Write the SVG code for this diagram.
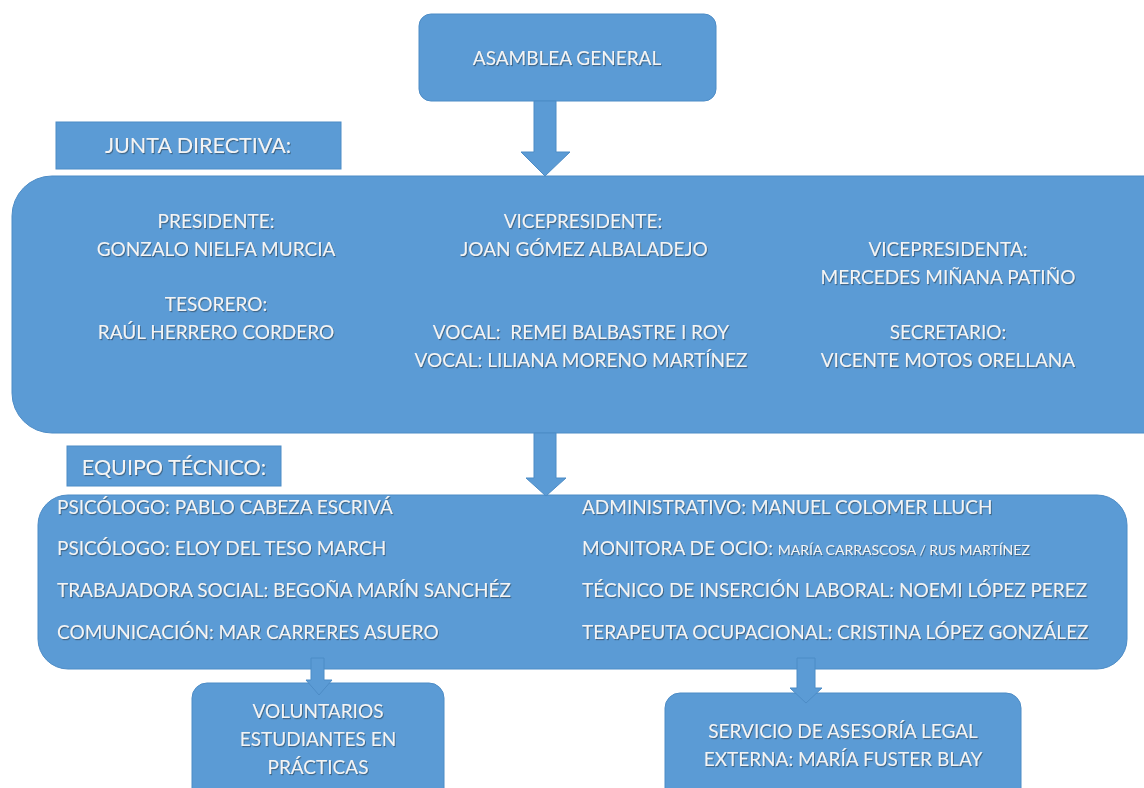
<svg xmlns="http://www.w3.org/2000/svg" width="1144" height="788" viewBox="0 0 1144 788">
<defs>
<filter id="ts" x="-5%" y="-30%" width="110%" height="160%">
<feDropShadow dx="1" dy="1.2" stdDeviation="0.6" flood-color="#2a3a4a" flood-opacity="0.55"/>
</filter>
<style>
.box{fill:#5b9bd5;stroke:#4d8cc6;stroke-width:1}
.arr{fill:#5b9bd5;stroke:#4d8cc6;stroke-width:1}
text{font-family:"Lato","Liberation Sans",sans-serif;fill:#f4f4f4;font-size:19px;filter:url(#ts)}
.c{text-anchor:middle}
.h{font-size:21.5px}
.s{font-size:14px}
</style>
</defs>
<rect width="1144" height="788" fill="#ffffff"/>
<g id="asamblea">
<rect class="box" x="419" y="14" width="297" height="87" rx="12"/>
<text class="c" x="567" y="65">ASAMBLEA GENERAL</text>
</g>
<g id="junta-label">
<rect class="box" x="56" y="122" width="285" height="47"/>
<text class="c h" x="198" y="153">JUNTA DIRECTIVA:</text>
</g>
<g id="junta">
<rect class="box" x="12" y="176" width="1180" height="257" rx="40"/>
<text class="c" x="216" y="228">PRESIDENTE:</text>
<text class="c" x="216" y="256">GONZALO NIELFA MURCIA</text>
<text class="c" x="216" y="311">TESORERO:</text>
<text class="c" x="216" y="339">RAÚL HERRERO CORDERO</text>
<text class="c" x="583" y="228">VICEPRESIDENTE:</text>
<text class="c" x="584" y="256">JOAN GÓMEZ ALBALADEJO</text>
<text class="c" x="581" y="339" xml:space="preserve">VOCAL:  REMEI BALBASTRE I ROY</text>
<text class="c" x="581" y="367">VOCAL: LILIANA MORENO MARTÍNEZ</text>
<text class="c" x="948" y="256">VICEPRESIDENTA:</text>
<text class="c" x="948" y="284">MERCEDES MIÑANA PATIÑO</text>
<text class="c" x="948" y="339">SECRETARIO:</text>
<text class="c" x="948" y="367">VICENTE MOTOS ORELLANA</text>
</g>
<g id="equipo-label">
<rect class="box" x="67" y="446" width="214" height="40"/>
<text class="c h" x="174" y="475">EQUIPO TÉCNICO:</text>
</g>
<g id="equipo">
<rect class="box" x="38" y="495" width="1089" height="174" rx="30"/>
<text x="57" y="514">PSICÓLOGO: PABLO CABEZA ESCRIVÁ</text>
<text x="57" y="555">PSICÓLOGO: ELOY DEL TESO MARCH</text>
<text x="57" y="597">TRABAJADORA SOCIAL: BEGOÑA MARÍN SANCHÉZ</text>
<text x="57" y="639">COMUNICACIÓN: MAR CARRERES ASUERO</text>
<text x="582" y="514">ADMINISTRATIVO: MANUEL COLOMER LLUCH</text>
<text x="582" y="555">MONITORA DE OCIO: <tspan class="s">MARÍA CARRASCOSA / RUS MARTÍNEZ</tspan></text>
<text x="582" y="597">TÉCNICO DE INSERCIÓN LABORAL: NOEMI LÓPEZ PEREZ</text>
<text x="582" y="639">TERAPEUTA OCUPACIONAL: CRISTINA LÓPEZ GONZÁLEZ</text>
</g>
<g id="voluntarios">
<rect class="box" x="192" y="683" width="252" height="130" rx="15"/>
<text class="c" x="318" y="718">VOLUNTARIOS</text>
<text class="c" x="318" y="746">ESTUDIANTES EN</text>
<text class="c" x="318" y="774">PRÁCTICAS</text>
</g>
<g id="asesoria">
<rect class="box" x="665" y="693" width="356" height="120" rx="15"/>
<text class="c" x="843" y="738">SERVICIO DE ASESORÍA LEGAL</text>
<text class="c" x="843" y="766">EXTERNA: MARÍA FUSTER BLAY</text>
</g>
<g id="connectors">
<polygon class="arr" points="534,101 556,101 556,152 570,152 545,176 521,152 534,152"/>
<polygon class="arr" points="534,433 556,433 556,478 566,478 546,496 526,478 534,478"/>
<polygon class="arr" points="311,658 324,658 324,680 332,680 319,695 306,680 311,680"/>
<polygon class="arr" points="797,658 815,658 815,688 822,688 806,703 790,688 797,688"/>
</g>
</svg>
